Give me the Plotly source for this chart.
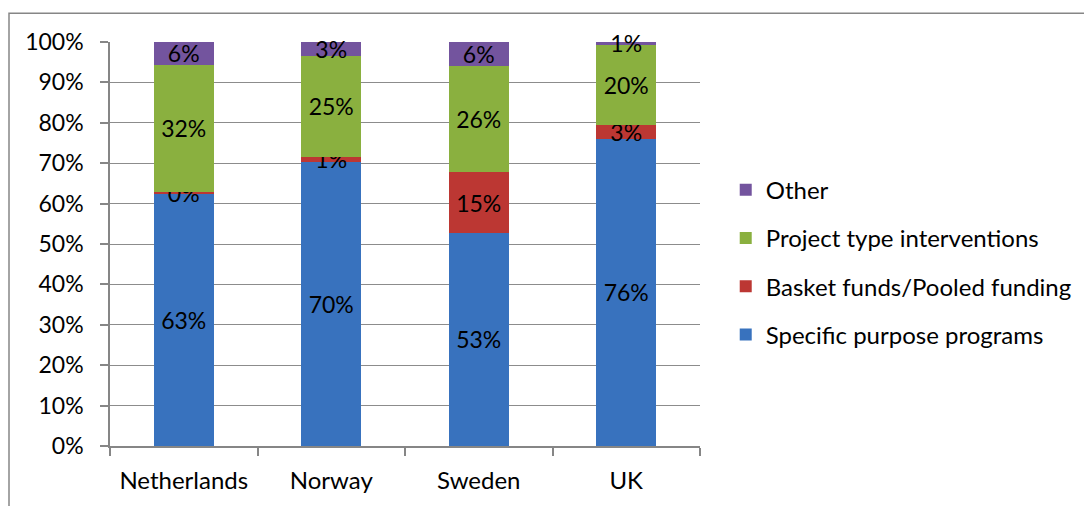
import plotly.graph_objects as go

countries = ["Netherlands", "Norway", "Sweden", "UK"]
specific = [62.5, 70.3, 52.8, 76.1]
basket = [0.3, 1.3, 14.9, 3.3]
project = [31.6, 24.9, 26.4, 19.9]
other = [5.6, 3.4, 5.9, 0.7]

series_names = ["Specific purpose programs", "Basket funds/Pooled funding",
                "Project type interventions", "Other"]
series_vals = [specific, basket, project, other]
colors = ["#3872BE", "#BC3733", "#8AB03F", "#73549E"]

FONT = "Lato"
fig = go.Figure()
for i, (name, vals, col) in enumerate(zip(series_names, series_vals, colors)):
    fig.add_trace(go.Bar(
        x=countries, y=vals, name=name, marker=dict(color=col, line=dict(width=0)),
        texttemplate="%{y:.0f}%", textposition="inside", insidetextanchor="middle",
        constraintext="none", textangle=0,
        textfont=dict(color="black", size=23, family=FONT),
        legendgroup=f"g{i}", legendrank=4 - i, width=0.41, cliponaxis=False,
    ))

# page body has an 8px margin: compensate so the plot lands where the reference is
L, T, PW, PH = 102, 34, 590, 408
W, H = 1084, 498
fig.update_layout(
    barmode="stack", width=W, height=H,
    margin=dict(l=L, r=W - L - PW, t=T, b=H - T - PH),
    paper_bgcolor="white", plot_bgcolor="white",
    font=dict(family=FONT, size=23, color="black"),
    legend=dict(traceorder="grouped", tracegroupgap=14,
                x=1.0436, xanchor="left", y=0.455, yanchor="middle",
                font=dict(size=24, family=FONT), itemwidth=30),
    xaxis=dict(showline=True, linecolor="#868686", linewidth=1.5,
               ticks="outside", tickson="boundaries", ticklen=8,
               tickcolor="#868686", tickwidth=1.5, showgrid=False,
               ticklabelstandoff=12, tickfont=dict(size=24, family=FONT)),
    yaxis=dict(range=[0, 100], dtick=10, ticksuffix="%", showline=True,
               linecolor="#868686", linewidth=1.5, ticks="outside", ticklen=8,
               tickcolor="#868686", tickwidth=1.5, showgrid=True,
               gridcolor="#8C8C8C", gridwidth=1.4, zeroline=False,
               ticklabelstandoff=12, tickfont=dict(size=23, family=FONT)),
    shapes=[dict(type="rect", xref="paper", yref="paper",
                 x0=(1 - L) / PW, x1=(1100 - L) / PW,
                 y0=(T + PH - 520) / PH, y1=(T + PH - 5) / PH,
                 line=dict(color="#868686", width=1.5), layer="below")],
)

fig.write_html("out.html")
